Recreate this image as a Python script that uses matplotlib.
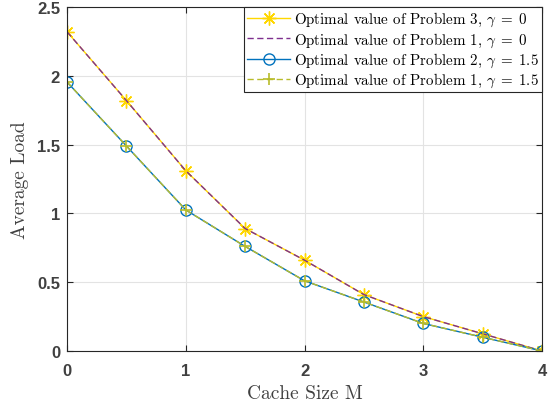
import matplotlib
matplotlib.use("Agg")
import matplotlib.pyplot as plt

plt.rcParams['mathtext.fontset'] = 'cm'
plt.rcParams['axes.unicode_minus'] = False

cache = [0, 0.5, 1, 1.5, 2, 2.5, 3, 3.5, 4]
p3_g0 = [2.32, 1.82, 1.31, 0.89, 0.66, 0.41, 0.25, 0.125, 0.0]
p1_g0 = [2.32, 1.82, 1.31, 0.89, 0.66, 0.41, 0.25, 0.125, 0.0]
p2_g15 = [1.955, 1.49, 1.025, 0.76, 0.51, 0.356, 0.20, 0.10, 0.0]
p1_g15 = [1.955, 1.49, 1.025, 0.76, 0.51, 0.356, 0.20, 0.10, 0.0]

labels = [r"Optimal value of Problem 3, $\gamma\;=\;0$",
          r"Optimal value of Problem 1, $\gamma\;=\;0$",
          r"Optimal value of Problem 2, $\gamma\;=\;1.5$",
          r"Optimal value of Problem 1, $\gamma\;=\;1.5$"]
xticks = [0, 1, 2, 3, 4]
yticks = [0, 0.5, 1, 1.5, 2, 2.5]
ytick_labels = ["0", "0.5", "1", "1.5", "2", "2.5"]

fig = plt.figure(figsize=(5.59, 4.10), dpi=100)
ax = fig.add_axes([0.1199, 0.1415, 0.8497, 0.839])

ax.plot(cache, p3_g0, '-', color='#FFD700', marker=(8, 2, 0), ms=10, mew=1.0, lw=1.0, label=labels[0])
ax.plot(cache, p1_g0, '--', color='#7E2F8E', lw=1.0, dashes=(4.5, 2.5), label=labels[1])
ax.plot(cache, p2_g15, '-', color='#0072BD', marker='o', ms=8, mfc='none', mew=1.0, lw=1.0, label=labels[2])
ax.plot(cache, p1_g15, '--', color='#B8BC2A', marker='+', ms=9, mew=1.2, lw=1.0, dashes=(4.5, 2.5), label=labels[3])

ax.set_xlim(0, 4)
ax.set_ylim(0, 2.5)
ax.set_xticks(xticks)
ax.set_yticks(yticks)
ax.set_yticklabels(ytick_labels)
ax.grid(True, color='#e3e3e3', lw=0.8)
ax.set_axisbelow(True)
ax.tick_params(direction='in', top=True, right=True, length=4, color='#262626',
               labelsize=12, labelcolor='#404040')
ax.tick_params(axis='x', pad=9)
ax.tick_params(axis='y', pad=5)
for lab in ax.get_xticklabels() + ax.get_yticklabels():
    lab.set_fontweight('bold')
    lab.set_fontfamily('Liberation Sans')
for s in ax.spines.values():
    s.set_color('#262626')
    s.set_linewidth(0.8)

ax.set_xlabel("Cache Size M", family='cmr10', fontsize=14, color='#404040', labelpad=4)
ax.set_ylabel("Average Load", family='cmr10', fontsize=14, color='#404040', labelpad=6)

leg = ax.legend(loc='upper right', borderaxespad=0, prop={'family': 'cmr10', 'size': 10.8},
                fancybox=False, edgecolor='#262626', framealpha=1, handlelength=2.9,
                handletextpad=0.25, labelspacing=0.13, borderpad=0.2)
leg.get_frame().set_linewidth(0.8)

fig.savefig("out.png", dpi=100)
